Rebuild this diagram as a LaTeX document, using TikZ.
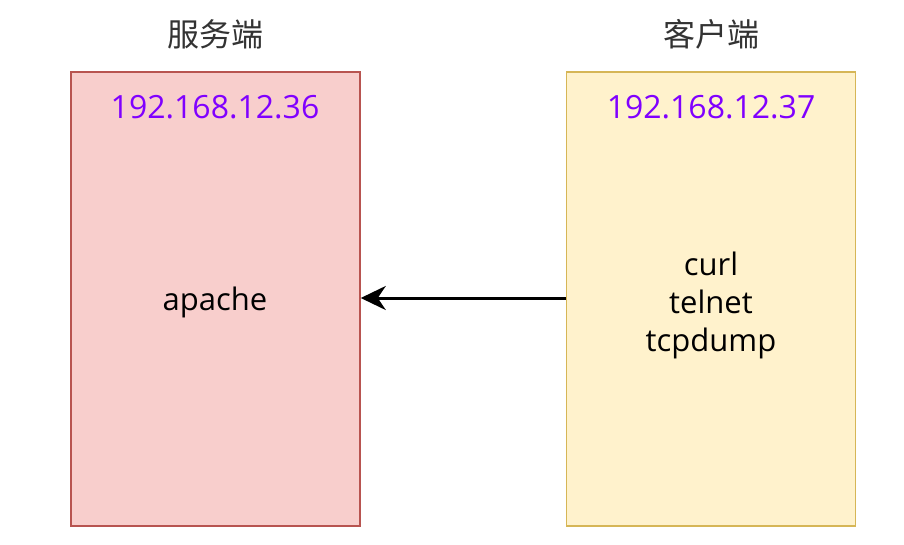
\documentclass[tikz,border=0pt]{standalone}
\usepackage{fontspec}
\setmainfont{Open Sans}
\newfontfamily\cjk{Noto Sans CJK SC}
\usetikzlibrary{arrows.meta}
\definecolor{srvfill}{HTML}{F8CECC}
\definecolor{srvline}{HTML}{B85450}
\definecolor{clifill}{HTML}{FFF2CC}
\definecolor{cliline}{HTML}{D6B656}
\definecolor{ipcol}{HTML}{8000FF}
\definecolor{titlecol}{HTML}{333333}
\begin{document}
\begin{tikzpicture}[x=1pt,y=-1pt,
  box/.style={draw, line width=1.5pt, minimum width=289pt, minimum height=454pt, inner sep=0pt},
  title/.style={font=\cjk\fontsize{32}{36}\selectfont, text=titlecol, inner sep=0pt},
  ip/.style={font=\fontsize{32}{36}\selectfont, text=ipcol, inner sep=0pt},
  body/.style={font=\fontsize{31}{38}\selectfont, align=center, inner sep=0pt},
  conn/.style={line width=3pt, -{Stealth[length=25pt,width=24pt,inset=8pt]}}]
\useasboundingbox (0,0) rectangle (904,545);
\node[box, fill=srvfill, draw=srvline] (srv) at (215.5,299) {};
\node[box, fill=clifill, draw=cliline] (cli) at (711,299) {};
\node[title] (srvt) at (215,34) {服务端};
\node[title] (clit) at (711,34) {客户端};
\node[ip] (srvip) at (215,107) {192.168.12.36};
\node[ip] (cliip) at (711,107) {192.168.12.37};
\node[body] (srvb) at (215,302) {apache};
\node[body] (clib) at (711,305) {curl\\telnet\\tcpdump};
\draw[conn] (cli.west |- 0,298) -- (srv.east |- 0,298);
\end{tikzpicture}
\end{document}
